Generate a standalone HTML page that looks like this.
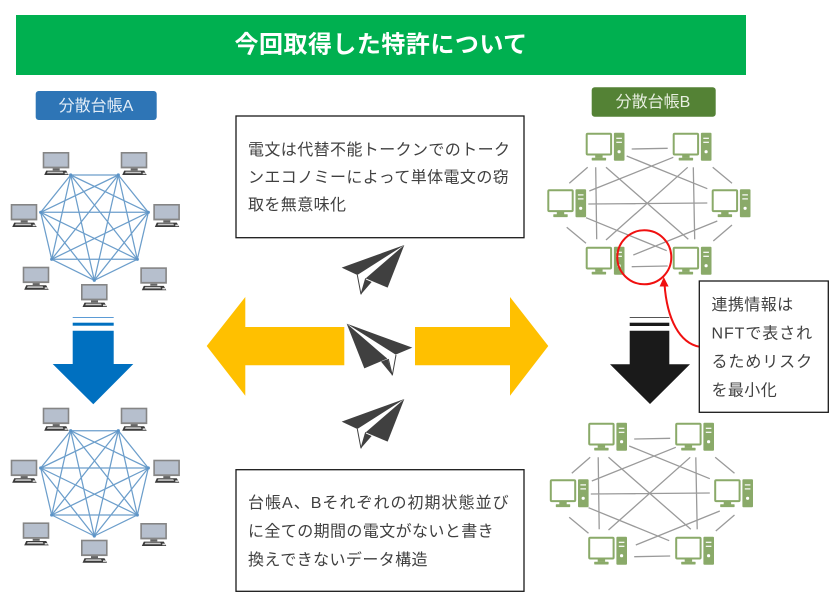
<!DOCTYPE html>
<html lang="ja">
<head>
<meta charset="utf-8">
<title>今回取得した特許について</title>
<style>
html,body{margin:0;padding:0;background:#fff;}
svg{display:block;}
text{font-family:"Liberation Sans","Noto Sans CJK JP",sans-serif;}
.t{font-size:16px;fill:#404040;letter-spacing:.4px;}
</style>
</head>
<body>
<svg width="840" height="604" viewBox="0 0 840 604" xmlns="http://www.w3.org/2000/svg">
<defs>
  <g id="pcA">
    <rect x="0" y="0" width="26.6" height="16.4" fill="#858585"/>
    <rect x="1.6" y="1.6" width="23.4" height="13" fill="#b6bfcd"/>
    <rect x="10" y="16.4" width="7" height="2" fill="#666"/>
    <path d="M3.5 18.6H23.5L26 23H1.5Z" fill="#3a3a3a"/>
    <path d="M5 19.6H20L20.8 21.2H4.2Z" fill="#c9c9c9"/>
    <rect x="22" y="20.6" width="3" height="1.6" fill="#ddd"/>
  </g>
  <g id="nets">
    <path fill="none" stroke="#6c9ecb" stroke-width="1.25" d="M70.7 175L118.3 175M70.7 175L148.3 212.3M70.7 175L137.3 259.3M70.7 175L94.3 280.3M70.7 175L51.7 259.3M70.7 175L40.7 212.3M118.3 175L148.3 212.3M118.3 175L137.3 259.3M118.3 175L94.3 280.3M118.3 175L51.7 259.3M118.3 175L40.7 212.3M148.3 212.3L137.3 259.3M148.3 212.3L94.3 280.3M148.3 212.3L51.7 259.3M148.3 212.3L40.7 212.3M137.3 259.3L94.3 280.3M137.3 259.3L51.7 259.3M137.3 259.3L40.7 212.3M94.3 280.3L51.7 259.3M94.3 280.3L40.7 212.3M51.7 259.3L40.7 212.3"/>
    <g fill="#5b93c7">
      <circle cx="70.7" cy="175" r="1.6"/><circle cx="118.3" cy="175" r="1.6"/><circle cx="148.3" cy="212.3" r="1.6"/><circle cx="137.3" cy="259.3" r="1.6"/><circle cx="94.3" cy="280.3" r="1.6"/><circle cx="51.7" cy="259.3" r="1.6"/><circle cx="40.7" cy="212.3" r="1.6"/>
    </g>
    <use href="#pcA" x="42.7" y="152"/>
    <use href="#pcA" x="120.7" y="152"/>
    <use href="#pcA" x="10.7" y="204"/>
    <use href="#pcA" x="153.3" y="204"/>
    <use href="#pcA" x="22.7" y="266.7"/>
    <use href="#pcA" x="140.3" y="267.3"/>
    <use href="#pcA" x="81" y="284"/>
  </g>
  <g id="pcB">
    <rect x="1" y="1" width="24.4" height="20.8" rx="1" fill="#fff" stroke="#8aaa69" stroke-width="2"/>
    <rect x="9.5" y="22" width="7.4" height="3.2" fill="#8aaa69"/>
    <rect x="6" y="25" width="14.4" height="2.8" rx=".6" fill="#8aaa69"/>
    <rect x="28.2" y="0" width="10.6" height="28" rx="1" fill="#8aaa69"/>
    <rect x="30.6" y="5" width="5.6" height="1.2" fill="#fff"/>
    <rect x="30.6" y="9" width="5.6" height="1.2" fill="#fff"/>
    <circle cx="33.4" cy="19" r="1.6" fill="#fff"/>
  </g>
  <g id="netB">
    <path fill="none" stroke="#9a9a9a" stroke-width="1.3" d="M631.7 149L667.7 148.3M626.7 156L707.3 188.7M673.3 157.3L589.3 191M587.7 167.3L569.3 183.3M595.7 167.3L596.7 239.3M606 167.3L688.3 239.3M687.7 167.3L606 240M693.3 167.3L694.7 239.3M712.7 167.3L732 183.3M588.3 204L707.3 203M586 217.7L666.7 250.7M566.7 227.3L586 243.3M717.3 221L633.3 255M732 225L713.3 241M631.7 266.7L667.7 266"/>
    <use href="#pcB" x="585.7" y="132.7"/>
    <use href="#pcB" x="672.7" y="132.7"/>
    <use href="#pcB" x="547.3" y="189.3"/>
    <use href="#pcB" x="711.7" y="189.3"/>
    <use href="#pcB" x="585.7" y="246.7"/>
    <use href="#pcB" x="672.7" y="246.7"/>
  </g>
  <g id="plane">
    <path d="M613 30L425 98L472 120Z" fill="#404040"/>
    <path d="M613 30L497 130L563 158Z" fill="#404040"/>
    <path d="M472 120L483 178L497 130" fill="#fff" stroke="#404040" stroke-width="3"/>
    <path d="M497 133L515 141L483 178Z" fill="#404040"/>
  </g>
</defs>

<rect width="840" height="604" fill="#fff"/>

<!-- header -->
<rect x="16" y="15" width="730" height="60" fill="#00b050"/>
<text x="381" y="52.5" text-anchor="middle" font-size="24" font-weight="700" letter-spacing=".4" textLength="293" fill="#fff">今回取得した特許について</text>

<!-- ledger labels -->
<rect x="35.7" y="91" width="121" height="29" rx="3" fill="#2e75b6"/>
<text x="96" y="111" text-anchor="middle" font-size="16" fill="#e3edf7">分散台帳A</text>
<rect x="591.7" y="87.3" width="124" height="29.4" rx="3" fill="#548235"/>
<text x="653" y="107" text-anchor="middle" font-size="16" fill="#e8efe1">分散台帳B</text>

<!-- network A -->
<use href="#nets"/>
<use href="#nets" y="255.7"/>

<!-- network B -->
<use href="#netB"/>
<use href="#netB" x="2.5" y="290"/>

<!-- down arrows -->
<g fill="#0070c0">
  <rect x="72.7" y="317" width="41" height="1" fill="#5b9bd5"/>
  <rect x="72.7" y="322.7" width="41" height="3"/>
  <path d="M72.7 330.7H113.7V364H133.3L93.3 404.3L52.7 364H72.7Z"/>
</g>
<g fill="#1a1a1a">
  <rect x="629.7" y="317" width="39.6" height="1" fill="#555"/>
  <rect x="629.7" y="322.7" width="39.6" height="3.3"/>
  <path d="M629.7 330.7H669.3V364.3H690L650 404L610 364.3H629.7Z"/>
</g>

<!-- text boxes -->
<rect x="236" y="116" width="288" height="121.7" fill="#fff" stroke="#1a1a1a" stroke-width="1.3"/>
<text class="t" x="248" y="155">電文は代替不能トークンでのトーク</text>
<text class="t" x="248" y="182.5">ンエコノミーによって単体電文の窃</text>
<text class="t" x="248" y="210">取を無意味化</text>

<rect x="236" y="469.7" width="288" height="121.6" fill="#fff" stroke="#1a1a1a" stroke-width="1.3"/>
<text class="t" x="248" y="508" textLength="261">台帳A、Bそれぞれの初期状態並び</text>
<text class="t" x="248" y="536.5">に全ての期間の電文がないと書き</text>
<text class="t" x="248" y="565">換えできないデータ構造</text>

<!-- yellow arrows -->
<path fill="#ffc000" d="M206.7 346L245.3 297V327H344.3V365.3H245.3V395.7Z"/>
<path fill="#ffc000" d="M548.3 346L510 297V327H415V365.3H510V395.7Z"/>

<!-- planes -->
<g transform="translate(200 235) scale(.3333)">
  <use href="#plane"/>
  <use href="#plane" y="462"/>
  <path d="M440 266L637 338L587 359Z" fill="#404040"/>
  <path d="M440 266L493 400L562 371Z" fill="#404040"/>
  <path d="M588 360L577 421L565 372" fill="#fff" stroke="#404040" stroke-width="3"/>
  <path d="M543 380L563 372L577 421Z" fill="#404040"/>
</g>

<!-- red highlight -->
<circle cx="644.3" cy="257.3" r="27" fill="none" stroke="#f01010" stroke-width="2"/>
<path d="M699.3 346.7C680 343 667 320 664.5 284" fill="none" stroke="#f01010" stroke-width="2"/>
<path d="M663.8 277L659.6 286.5H668.6Z" fill="#f01010"/>

<!-- callout -->
<rect x="699.3" y="281" width="129" height="131.3" fill="#fff" stroke="#1a1a1a" stroke-width="1.3"/>
<text class="t" x="711.5" y="310">連携情報は</text>
<text class="t" x="711.5" y="338.5" textLength="101">NFTで表され</text>
<text class="t" x="711.5" y="367" textLength="101">るためリスク</text>
<text class="t" x="711.5" y="395.5">を最小化</text>
</svg>
</body>
</html>
